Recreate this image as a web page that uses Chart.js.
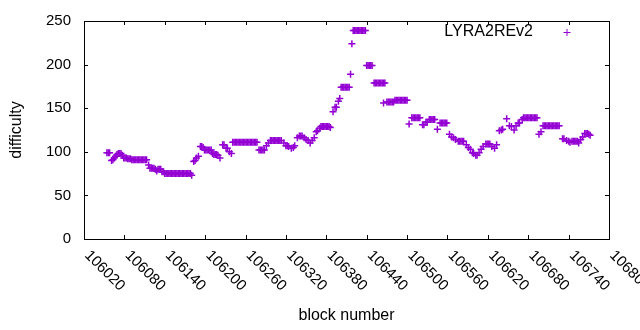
<!DOCTYPE html>
<html>
<head>
<meta charset="utf-8">
<script src="https://cdn.jsdelivr.net/npm/chart.js@4.4.1/dist/chart.umd.min.js"></script>
<style>
  html, body { margin: 0; background: #fff; }
</style>
</head>
<body>
<canvas id="chart" width="640" height="330"></canvas>
<script>
// difficulty per block

const seriesName = 'LYRA2REv2';
const xTicks = [106020, 106080, 106140, 106200, 106260, 106320, 106380,
                106440, 106500, 106560, 106620, 106680, 106740, 106800];
const yTicks = [0, 50, 100, 150, 200, 250];

const blocks = [
  106054, 106056, 106058, 106061, 106063, 106065, 106067, 106069, 106071, 106073, 106075, 106077, 106079,
  106081, 106083, 106085, 106087, 106089,
  106091, 106093, 106095, 106097, 106099, 106101, 106103, 106105, 106107, 106109, 106111, 106113,
  106116, 106118, 106120, 106122, 106124, 106126, 106128, 106130, 106132, 106134, 106136, 106138,
  106140, 106142, 106144, 106146, 106148, 106150, 106152, 106154, 106156, 106158,
  106160, 106162, 106164, 106166, 106168, 106170, 106172, 106174, 106176, 106178,
  106180, 106183, 106185, 106187, 106190, 106193, 106195, 106197,
  106199, 106201, 106203, 106205, 106207, 106209,
  106211, 106213, 106215, 106217, 106219, 106222, 106226, 106228, 106231, 106233, 106236, 106239,
  106241, 106243, 106245, 106247, 106249, 106251, 106253, 106255, 106257, 106259,
  106261, 106263, 106265, 106267, 106269, 106271, 106273, 106275, 106277,
  106280, 106282, 106284, 106286, 106288, 106291, 106294,
  106297, 106299, 106301, 106303, 106305, 106307, 106309, 106311, 106313,
  106317, 106320, 106322, 106324, 106328, 106331, 106333,
  106337, 106340, 106342, 106344, 106347, 106350, 106353, 106356, 106359, 106362, 106365, 106367, 106370,
  106372, 106374, 106376, 106378, 106380, 106382, 106384, 106386,
  106390, 106393, 106395, 106398, 106400,
  106402, 106404, 106406, 106408, 106410, 106412, 106414, 106416, 106418,
  106420, 106422, 106424, 106426, 106428, 106430, 106432, 106434, 106436, 106438,
  106440, 106442, 106444, 106446, 106448,
  106451, 106453, 106455, 106457, 106459, 106461, 106463, 106465, 106467, 106465,
  106470, 106472, 106474, 106476, 106478, 106480,
  106482, 106484, 106486, 106488, 106490, 106492, 106494, 106496, 106498, 106500,
  106503, 106507, 106509, 106511, 106513, 106515, 106517, 106519,
  106523, 106525, 106528, 106530, 106533, 106535, 106537, 106539, 106541, 106545,
  106549, 106551, 106553, 106555, 106557, 106559,
  106563, 106566, 106569, 106572, 106576, 106578, 106580, 106582, 106584,
  106588, 106591, 106594, 106597, 106599, 106602, 106604, 106607, 106610, 106613,
  106617, 106619, 106621, 106623, 106626, 106630, 106633, 106637, 106640, 106642, 106648,
  106652, 106655, 106659, 106662, 106665, 106667, 106671,
  106673, 106675, 106677, 106679, 106681, 106683, 106685, 106687, 106689, 106691, 106693,
  106696, 106699,
  106702, 106704, 106706, 106708, 106710, 106712, 106714, 106716, 106718, 106720, 106722, 106724, 106726,
  106731, 106733, 106737, 106740, 106742, 106745, 106747, 106749, 106751, 106753,
  106755, 106758, 106761, 106764, 106766, 106768, 106770, 106772
];

const difficulty = [
  99, 99, 99, 90, 91, 93, 95, 97, 98, 98, 98, 96, 93,
  93, 93, 92, 92, 92,
  91, 91, 91, 91, 91, 91, 91, 91, 91, 91, 91, 91,
  85, 81, 81, 81, 81, 80, 78, 80, 80, 80, 77, 77,
  75, 75, 75, 75, 75, 75, 75, 75, 75, 75,
  75, 75, 75, 75, 75, 75, 75, 75, 75, 75,
  73, 89, 90, 93, 95, 106, 106, 105,
  102, 102, 102, 102, 102, 102,
  98, 97, 97, 97, 96, 93, 108, 108, 104, 104, 100, 98,
  111, 111, 111, 111, 111, 111, 111, 111, 111, 111,
  111, 111, 111, 111, 111, 111, 111, 111, 111,
  102, 102, 102, 102, 102, 107, 110,
  113, 113, 113, 113, 113, 113, 113, 113, 113,
  110, 107, 107, 106, 104, 105, 107,
  116, 118, 118, 118, 116, 114, 113, 110, 113, 116, 123, 124, 127,
  129, 129, 129, 129, 129, 129, 129, 128,
  146, 151, 151, 158, 161,
  174, 174, 174, 174, 174, 174, 174, 189, 224,
  239, 239, 239, 239, 239, 239, 239, 239, 239, 239,
  199, 199, 199, 199, 199,
  179, 179, 179, 179, 179, 179, 179, 179, 179, 156,
  157, 157, 157, 157, 157, 157,
  159, 159, 159, 159, 159, 159, 159, 159, 159, 159,
  132, 139, 139, 139, 139, 139, 139, 139,
  131, 131, 134, 134, 137, 137, 137, 137, 137, 126,
  133, 133, 133, 133, 133, 133,
  120, 117, 116, 114, 112, 112, 112, 112, 112,
  108, 105, 103, 99, 98, 96, 96, 99, 103, 106,
  109, 109, 109, 109, 106, 104, 108, 124, 125, 126, 138,
  130, 129, 125, 130, 133, 133, 137,
  139, 139, 139, 139, 139, 139, 139, 139, 139, 139, 139,
  120, 123,
  130, 130, 130, 130, 130, 130, 130, 130, 130, 130, 130, 130, 130,
  115, 115, 113, 112, 111, 112, 112, 112, 112, 112,
  110, 114, 117, 121, 121, 121, 120, 119
];

const PURPLE = '#9400d3';
const FONT = '"Liberation Sans", Arial, sans-serif';
const TICK = 4;

// gnuplot look: full frame, inward mirrored tics, -45 deg x labels, key top right
const gnuplotFrame = {
  id: 'gnuplotFrame',
  afterDraw(chart) {
    const { ctx, chartArea: a, scales: { x, y } } = chart;
    ctx.save();
    ctx.strokeStyle = '#000';
    ctx.lineWidth = 1;
    ctx.beginPath();
    x.ticks.forEach(t => {
      const px = Math.round(x.getPixelForValue(t.value)) + 0.5;
      ctx.moveTo(px, a.bottom); ctx.lineTo(px, a.bottom - TICK);
      ctx.moveTo(px, a.top); ctx.lineTo(px, a.top + TICK);
    });
    y.ticks.forEach(t => {
      const py = Math.round(y.getPixelForValue(t.value)) + 0.5;
      ctx.moveTo(a.left, py); ctx.lineTo(a.left + TICK, py);
      ctx.moveTo(a.right, py); ctx.lineTo(a.right - TICK, py);
    });
    ctx.stroke();
    ctx.strokeRect(Math.round(a.left) + 0.5, Math.round(a.top) + 0.5,
                   Math.round(a.right - a.left), Math.round(a.bottom - a.top));

    ctx.fillStyle = '#000';
    ctx.font = '15px ' + FONT;
    ctx.textAlign = 'left';
    ctx.textBaseline = 'middle';
    x.ticks.forEach(t => {
      const px = x.getPixelForValue(t.value);
      ctx.save();
      ctx.translate(px + 3, a.bottom + 14);
      ctx.rotate(Math.PI / 4);
      ctx.fillText(String(t.value), 0, 0);
      ctx.restore();
    });

    ctx.font = '16px ' + FONT;
    ctx.textAlign = 'right';
    ctx.fillText(seriesName, 533, 32);
    ctx.strokeStyle = PURPLE;
    ctx.beginPath();
    ctx.moveTo(563.5, 32.5); ctx.lineTo(570.5, 32.5);
    ctx.moveTo(567, 29); ctx.lineTo(567, 36);
    ctx.stroke();
    ctx.restore();
  }
};

new Chart(document.getElementById('chart'), {
  type: 'scatter',
  data: {
    datasets: [{
      label: seriesName,
      data: blocks.map((b, i) => ({ x: b, y: difficulty[i] })),
      pointStyle: 'cross',
      pointRadius: 3.5,
      pointHoverRadius: 3.5,
      borderWidth: 1.5,
      borderColor: PURPLE,
      backgroundColor: PURPLE,
    }],
  },
  options: {
    responsive: false,
    animation: false,
    events: [],
    layout: { padding: { top: 21, right: 31, left: 0, bottom: 0 } },
    plugins: {
      legend: { display: false },
      tooltip: { enabled: false },
    },
    scales: {
      x: {
        type: 'linear',
        min: xTicks[0],
        max: xTicks[xTicks.length - 1],
        afterBuildTicks: s => { s.ticks = xTicks.map(v => ({ value: v })); },
        afterFit: s => { s.height = 91; s.paddingLeft = 0; s.paddingRight = 0; },
        ticks: { display: false },
        grid: { display: false },
        border: { display: false },
        title: {
          display: true,
          text: 'block number',
          color: '#000',
          font: { family: FONT, size: 16 },
          padding: { top: 0, bottom: 5 },
        },
      },
      y: {
        min: yTicks[0],
        max: yTicks[yTicks.length - 1],
        afterBuildTicks: s => { s.ticks = yTicks.map(v => ({ value: v })); },
        afterFit: s => { s.width = 84; s.paddingTop = 0; s.paddingBottom = 0; },
        ticks: { color: '#000', padding: 13, font: { family: FONT, size: 15 } },
        grid: { display: false, drawTicks: false },
        border: { display: false },
        title: {
          display: true,
          text: 'difficulty',
          color: '#000',
          font: { family: FONT, size: 16 },
          padding: { top: 7, bottom: 0 },
        },
      },
    },
  },
  plugins: [gnuplotFrame],
});
</script>
</body>
</html>
